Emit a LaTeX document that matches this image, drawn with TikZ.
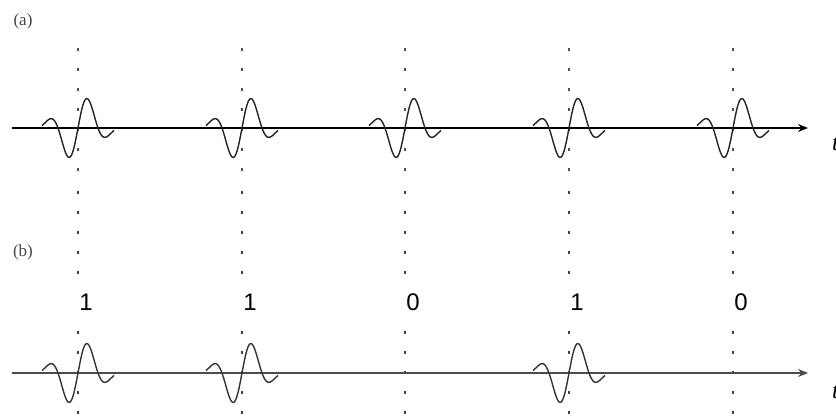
\documentclass[tikz,border=0pt]{standalone}
\usepackage{fontspec}
\setmainfont{Liberation Serif}
\newfontfamily\bitfont{Liberation Sans}
\usepackage{tikz}
\usetikzlibrary{arrows.meta}
\definecolor{pulsegray}{RGB}{35,35,35}
\definecolor{slotgray}{RGB}{80,80,80}
\definecolor{labelgray}{RGB}{70,70,70}
% one wavelet, centred on the slot line at x=#2, axis at y=#3
\newcommand{\pulse}[3][]{\draw[pulseline,#1] plot[domain=-36:36,samples=73,smooth] ({#2+\x},{#3-34*sin(9*\x)*exp(-(\x)^2/620)});}

\begin{document}
\begin{tikzpicture}[x=1pt,y=-1pt,>={Stealth[length=10pt,width=8pt]},
  pulseline/.style={line width=1.4pt,pulsegray},
  slotline/.style={slotgray,line width=1.6pt,dash pattern=on 3pt off 17pt},
  axisline/.style={->,line width=1.4pt},
  bit/.style={fill=white,inner xsep=6pt,inner ysep=4pt,font=\bitfont\fontsize{24}{26}\selectfont}]
\useasboundingbox (0,0) rectangle (836,416);
% (a) every slot carries a pulse
\node[text=labelgray,font=\fontsize{17}{19}\selectfont] (lbla) at (23,21) {(a)};
\draw[slotline] (78,48) -- (78,174);
\draw[slotline] (242,48) -- (242,174);
\draw[slotline] (405,48) -- (405,174);
\draw[slotline] (569,48) -- (569,174);
\draw[slotline] (733,48) -- (733,174);
\coordinate (starta) at (12,128);
\coordinate (enda) at (808,128);
\draw[axisline] (starta) -- (enda);
\pulse{78}{128}
\pulse{242}{128}
\pulse{405}{128}
\pulse{569}{128}
\pulse{733}{128}
\node[anchor=base west,inner sep=0,font=\itshape\fontsize{24}{26}\selectfont] (ta) at (832,150) {t};
% (b) pulse for 1, nothing for 0
\node[text=labelgray,font=\fontsize{17}{19}\selectfont] (lblb) at (23,252) {(b)};
\draw[slotline,black!75] (78,191) -- (78,416);
\draw[slotline,black!75] (242,191) -- (242,416);
\draw[slotline,black!75] (405,191) -- (405,416);
\draw[slotline,black!75] (569,191) -- (569,416);
\draw[slotline,black!75] (733,191) -- (733,416);
\coordinate (startb) at (12,373);
\coordinate (endb) at (808,373);
\draw[axisline,black!70] (startb) -- (endb);
\pulse[black!80]{78}{373}
\pulse[black!80]{242}{373}
\pulse[black!80]{569}{373}
\node[bit] (bit1) at (86,302) {1};
\node[bit] (bit2) at (250,302) {1};
\node[bit] (bit3) at (413,302) {0};
\node[bit] (bit4) at (577,302) {1};
\node[bit] (bit5) at (741,302) {0};
\node[anchor=base west,inner sep=0,font=\itshape\fontsize{24}{26}\selectfont] (tb) at (832,398) {t};
\end{tikzpicture}
\end{document}
